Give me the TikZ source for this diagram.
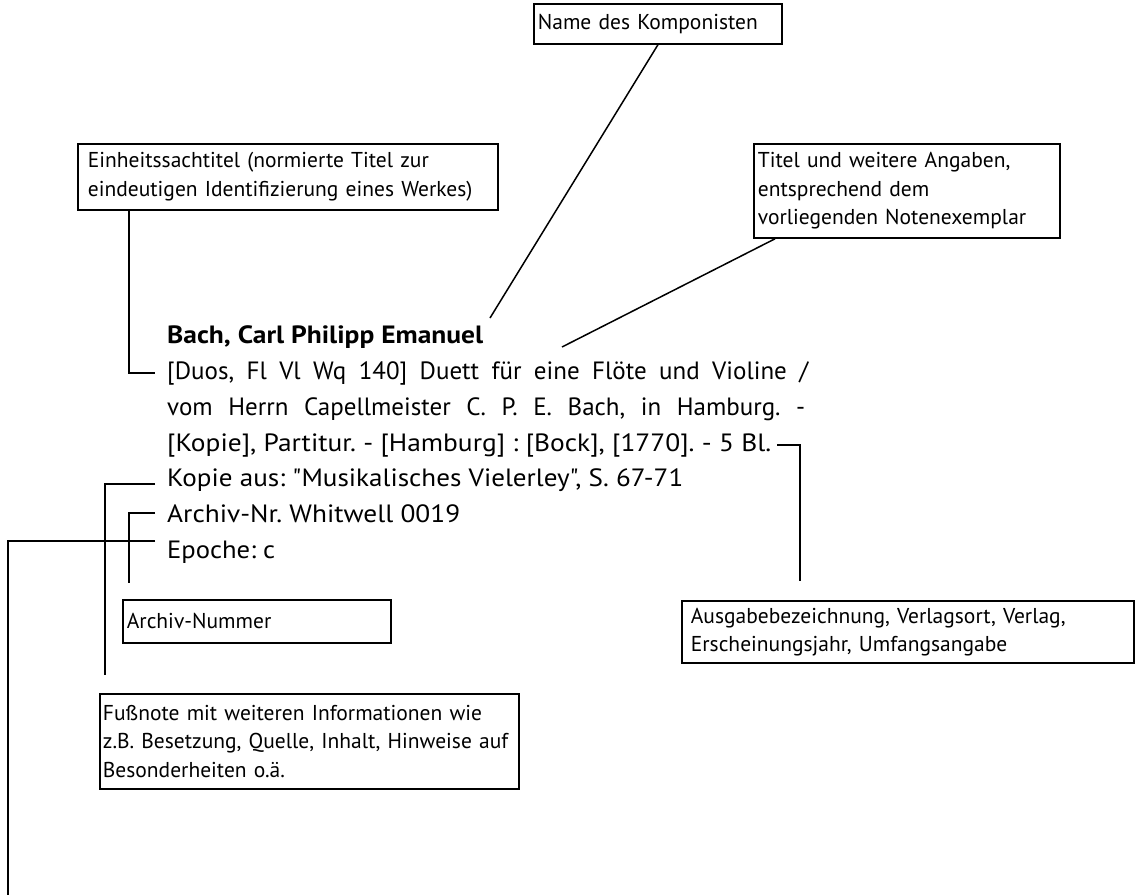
\documentclass[tikz,border=0pt]{standalone}
\usepackage{fontspec}
\usepackage{graphicx}
\setmainfont{PT Sans}[Ligatures=TeXOff]
\frenchspacing
\newcommand{\fitline}[2]{\resizebox{#1}{\height}{#2}}
\begin{document}
\begin{tikzpicture}[x=1pt,y=-1pt,
  box/.style={draw, line width=1.8pt, anchor=north west, align=left, inner xsep=4pt, inner ysep=0pt, font=\fontsize{21.5}{28.5}\selectfont},
  txt/.style={anchor=base west, inner sep=0pt, text height=18pt, text depth=6pt, font=\fontsize{25}{36}\selectfont},
  con/.style={line width=1.5pt}]
\useasboundingbox (0,0) rectangle (1135,895);

% annotation boxes
\node[box, text width=240pt, minimum height=40pt] (name) at (533,3) {Name des Komponisten};
\node[box, inner xsep=10pt, text width=400pt, minimum height=66pt] (ein) at (77,143) {Einheitssachtitel (normierte Titel zur\\eindeutigen Identifizierung eines Werkes)};
\node[box, text width=298pt, minimum height=94pt] (tit) at (753,143) {Titel und weitere Angaben,\\entsprechend dem\\vorliegenden Notenexemplar};
\node[box, text width=260pt, minimum height=43pt] (abox) at (122,599) {Archiv-Nummer};
\node[box, inner xsep=3pt, text width=413pt, minimum height=95pt] (fuss) at (99,693) {Fußnote mit weiteren Informationen wie\\z.B. Besetzung, Quelle, Inhalt, Hinweise auf\\Besonderheiten o.ä.};
\node[box, inner xsep=9pt, text width=434pt, minimum height=62pt] (ausg) at (681,600) {Ausgabebezeichnung, Verlagsort, Verlag,\\Erscheinungsjahr, Umfangsangabe};

% record text
\node[txt] (bach) at (167,343) {\fitline{316pt}{\bfseries Bach, Carl Philipp Emanuel}};
\node[txt] (duos) at (167,379) {\makebox[641pt][s]{[Duos, Fl Vl Wq 140] Duett für eine Flöte und Violine /}};
\node[txt] (vom) at (167,415) {\makebox[638pt][s]{vom Herrn Capellmeister C. P. E. Bach, in Hamburg. -}};
\node[txt] (kop) at (167,451) {\fitline{604pt}{[Kopie], Partitur. - [Hamburg] : [Bock], [1770]. - 5 Bl.}};
\node[txt] (kaus) at (167,486) {\fitline{516pt}{Kopie aus: "Musikalisches Vielerley", S. 67-71}};
\node[txt] (anr) at (167,522) {\fitline{293pt}{Archiv-Nr. Whitwell 0019}};
\node[txt] (epo) at (167,558) {\fitline{108pt}{Epoche: c}};

% free ends
\coordinate (nameEnd) at (490,318);
\coordinate (titEnd) at (562,347);
\coordinate (offpage) at (8,895);

% connectors
\draw[con] (name.south) -- (nameEnd);
\draw[con] ([xshift=22pt]tit.south west) -- (titEnd);
\draw[con] ([xshift=52pt]ein.south west) |- ([xshift=-12pt]duos.west);
\draw[con] ([xshift=6pt]kop.east) -| ([xshift=119pt,yshift=19pt]ausg.north west);
\draw[con] ([xshift=-12pt,yshift=-4pt]kaus.west) -| ([xshift=6pt,yshift=18pt]fuss.north west);
\draw[con] ([xshift=-12pt,yshift=3pt]anr.west) -| ([xshift=7pt,yshift=16pt]abox.north west);
\draw[con] ([xshift=-12pt,yshift=11pt]epo.west) -| (offpage);
\end{tikzpicture}
\end{document}
